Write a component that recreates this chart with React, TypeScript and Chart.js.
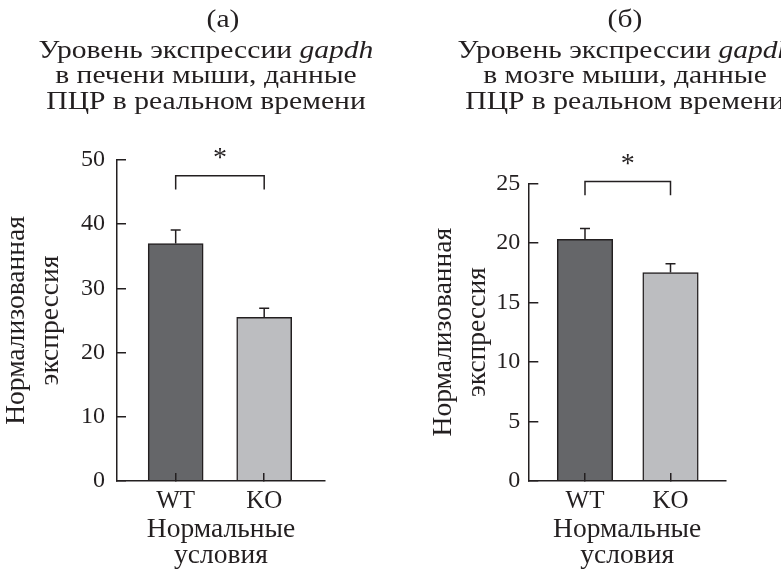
import React, { useEffect, useRef } from 'react';
import { Chart, registerables } from 'chart.js';

Chart.register(...registerables);

// ---- data ----
const categories = ['WT', 'KO'];
const liverValues = [37.0, 25.5];
const liverErrors = [2.1, 1.4];
const brainValues = [20.3, 17.5];
const brainErrors = [0.9, 0.75];
const liverTicks = [0, 10, 20, 30, 40, 50];
const brainTicks = [0, 5, 10, 15, 20, 25];
// significance bracket: [bar level, leg bottom] in axis units
const liverBracket = [47.55, 45.4];
const brainBracket = [25.15, 24.0];
const starLabel = '*';
const barColors = ['#656669', '#bcbdc0'];
const yTitle = ['Нормализованная', 'экспрессия'];
const xTitle = ['Нормальные', 'условия'];
const liverTitle = [
  [{ t: '(а)' }],
  [{ t: 'Уровень экспрессии ' }, { t: 'gapdh', i: true }],
  [{ t: 'в печени мыши, данные' }],
  [{ t: 'ПЦР в реальном времени' }],
];
const brainTitle = [
  [{ t: '(б)' }],
  [{ t: 'Уровень экспрессии ' }, { t: 'gapdh', i: true }],
  [{ t: 'в мозге мыши, данные' }],
  [{ t: 'ПЦР в реальном времени' }],
];

const FAMILY = '"Liberation Serif", "Times New Roman", serif';
const INK = '#231f20';

type Seg = { t: string; i?: boolean };

type PanelProps = {
  width: number;
  values: number[];
  errors: number[];
  ticks: number[];
  bracket: number[];
  title: Seg[][];
  titleCenters: number[];
  titleMiddles: number[];
  padLeft: number;
  yWidth: number;
  padTop: number;
  padRight: number;
  xHeight: number;
  xMin: number;
  xMax: number;
  barThickness: number;
  tickLen: number;
  tickPad: number;
};

function Panel(p: PanelProps) {
  const ref = useRef<HTMLCanvasElement | null>(null);
  useEffect(() => {
    if (!ref.current) return;
    const titleSize = 25.5;
    const titleStretch = 1.16;
    const axisTitleSize = 27.5;
    const overlay = {
      id: 'overlay',
      afterDraw(chart: any) {
        const ctx = chart.ctx;
        const ys = chart.scales.y;
        const meta = chart.getDatasetMeta(0);
        ctx.save();
        ctx.strokeStyle = INK;
        ctx.lineWidth = 1.5;
        // error bars
        meta.data.forEach((el: any, i: number) => {
          const top = ys.getPixelForValue(p.values[i] + p.errors[i]);
          ctx.beginPath();
          ctx.moveTo(el.x, el.y);
          ctx.lineTo(el.x, top);
          ctx.moveTo(el.x - 5, top);
          ctx.lineTo(el.x + 5, top);
          ctx.stroke();
        });
        // significance bracket
        const x1 = meta.data[0].x;
        const x2 = meta.data[1].x;
        const yb = ys.getPixelForValue(p.bracket[0]);
        const yl = ys.getPixelForValue(p.bracket[1]);
        ctx.beginPath();
        ctx.moveTo(x1, yl);
        ctx.lineTo(x1, yb);
        ctx.lineTo(x2, yb);
        ctx.lineTo(x2, yl);
        ctx.stroke();
        ctx.fillStyle = INK;
        ctx.font = `28px ${FAMILY}`;
        ctx.textAlign = 'center';
        ctx.textBaseline = 'middle';
        ctx.fillText(starLabel, (x1 + x2) / 2, yb - 17);
        // title lines (mixed roman / italic)
        ctx.textAlign = 'left';
        p.title.forEach((line, li) => {
          const widths = line.map((s) => {
            ctx.font = `${s.i ? 'italic ' : ''}${titleSize}px ${FAMILY}`;
            return ctx.measureText(s.t).width;
          });
          const total = widths.reduce((a, b) => a + b, 0) * titleStretch;
          ctx.save();
          ctx.translate(p.titleCenters[li] - total / 2, p.titleMiddles[li]);
          ctx.scale(titleStretch, 1);
          let x = 0;
          line.forEach((s, si) => {
            ctx.font = `${s.i ? 'italic ' : ''}${titleSize}px ${FAMILY}`;
            ctx.fillText(s.t, x, 0);
            x += widths[si];
          });
          ctx.restore();
        });
        ctx.restore();
      },
    };

    const chart = new Chart(ref.current, {
      type: 'bar',
      data: {
        datasets: [
          {
            data: p.values.map((v, i) => ({ x: i + 1, y: v })),
            backgroundColor: barColors,
            borderColor: INK,
            borderWidth: 1.5,
            barThickness: p.barThickness,
          },
        ],
      },
      options: {
        responsive: false,
        animation: false,
        events: [],
        layout: { padding: { left: p.padLeft, top: p.padTop, right: p.padRight, bottom: 0 } },
        plugins: { legend: { display: false }, tooltip: { enabled: false }, title: { display: false } },
        scales: {
          x: {
            type: 'linear',
            offset: false,
            min: p.xMin,
            max: p.xMax,
            afterBuildTicks: (s: any) => {
              s.ticks = categories.map((_, i) => ({ value: i + 1 }));
            },
            afterFit: (s: any) => {
              s.height = p.xHeight;
            },
            grid: {
              offset: false,
              drawOnChartArea: false,
              tickLength: -8,
              color: INK,
              lineWidth: 1.5,
              z: 1,
            },
            border: { display: true, color: INK, width: 1.5, z: 1 },
            ticks: {
              autoSkip: false,
              maxRotation: 0,
              padding: 13,
              color: INK,
              font: { family: FAMILY, size: 25, lineHeight: 1.2 },
              callback: (v: any) => categories[Math.round(Number(v)) - 1] ?? '',
            },
            title: {
              display: true,
              text: xTitle,
              color: INK,
              font: { family: FAMILY, size: axisTitleSize, lineHeight: 26 / axisTitleSize },
              padding: { top: 0, bottom: 3 },
            },
          },
          y: {
            min: p.ticks[0],
            max: p.ticks[p.ticks.length - 1],
            afterBuildTicks: (s: any) => {
              s.ticks = p.ticks.map((v) => ({ value: v }));
            },
            afterFit: (s: any) => {
              s.width = p.yWidth;
            },
            grid: {
              drawOnChartArea: false,
              tickLength: -p.tickLen,
              color: INK,
              lineWidth: 1.5,
            },
            border: { display: true, color: INK, width: 1.5 },
            ticks: {
              padding: p.tickPad,
              color: INK,
              font: { family: FAMILY, size: 24, lineHeight: 1.2 },
            },
            title: {
              display: true,
              text: yTitle,
              color: INK,
              font: { family: FAMILY, size: axisTitleSize, lineHeight: 34 / axisTitleSize },
              padding: { top: 0, bottom: 0 },
            },
          },
        },
      },
      plugins: [overlay],
    } as any);
    return () => chart.destroy();
  }, []);
  return <canvas ref={ref} width={p.width} height={572} style={{ display: 'block' }} />;
}

export default function App() {
  return (
    <div
      style={{
        position: 'absolute',
        left: 0,
        top: 0,
        width: 781,
        height: 572,
        background: '#fff',
        display: 'flex',
        overflow: 'hidden',
      }}
    >
      <Panel
        width={390}
        values={liverValues}
        errors={liverErrors}
        ticks={liverTicks}
        bracket={liverBracket}
        title={liverTitle}
        titleCenters={[223, 206, 206, 206]}
        titleMiddles={[20, 51, 76.5, 102]}
        padLeft={0}
        yWidth={117}
        padTop={160}
        padRight={65}
        xHeight={91}
        xMin={0.337}
        xMax={2.687}
        barThickness={55}
        tickLen={9}
        tickPad={21}
      />
      <Panel
        width={391}
        values={brainValues}
        errors={brainErrors}
        ticks={brainTicks}
        bracket={brainBracket}
        title={brainTitle}
        titleCenters={[235, 235, 235, 235]}
        titleMiddles={[20, 51, 76.5, 102]}
        padLeft={37}
        yWidth={101.3}
        padTop={183.3}
        padRight={55}
        xHeight={91}
        xMin={0.337}
        xMax={2.649}
        barThickness={55.5}
        tickLen={10}
        tickPad={18}
      />
    </div>
  );
}
